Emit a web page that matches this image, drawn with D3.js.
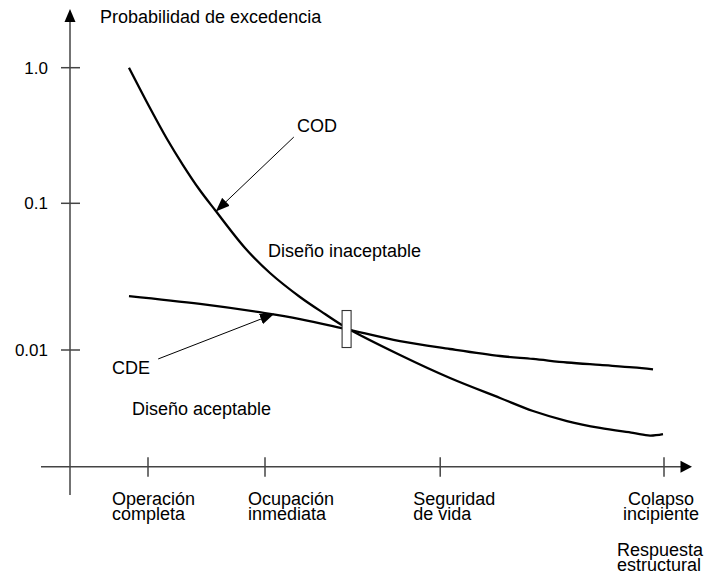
<!DOCTYPE html>
<html><head><meta charset="utf-8">
<script src="https://cdn.jsdelivr.net/npm/d3@7"></script>
<style>
body{margin:0;background:#fff}
svg{display:block}
text{font-family:"Liberation Sans",Arial,Helvetica,sans-serif;fill:#000}
</style>
</head><body>
<svg id="c" width="707" height="574"></svg>
<script>
// ---- data ----
const responseLevels = [["Operación","completa"],["Ocupación","inmediata"],["Seguridad","de vida"],["Colapso","incipiente"]];
const responseTicks = [1.3, 3.25, 6.17, 9.9];
const probTicks = [0.01, 0.1, 1];
const probTickLabels = ["0.01", "0.1", "1.0"];

// COD curve
const codX = [0.983, 1.333, 1.617, 1.883, 2.15, 2.417, 2.917, 3.333, 3.833, 4.25, 4.6, 5.5, 6.333, 7.167, 7.717, 8.283, 8.833, 9.383, 9.667, 9.883];
const codY = [1.0, 0.5045, 0.298, 0.1916, 0.1275, 0.0900, 0.0496, 0.03348, 0.02298, 0.01759, 0.01423, 0.00924, 0.00644, 0.00471, 0.00384, 0.00328, 0.00294, 0.00272, 0.00261, 0.00267];
// CDE curve
const cdeX = [0.983, 2.167, 3.25, 3.833, 4.6, 5.5, 6.333, 7.167, 7.717, 8.283, 8.833, 9.383, 9.717];
const cdeY = [0.0233, 0.0206, 0.01786, 0.01626, 0.0139, 0.0115, 0.01016, 0.0091, 0.00869, 0.00822, 0.00791, 0.00762, 0.00739];

// ---- layout ----
const svg = d3.select("#c");
const x = d3.scaleLinear().domain([0, 10]).range([70, 670]);
const y = d3.scaleLog().domain([0.01, 0.1, 1]).range([350, 203.3, 67.7]);
const axisColor = "#444";
const xAxisY = 466.7;

// y axis
svg.append("line").attr("x1", x(0)).attr("x2", x(0)).attr("y1", 21).attr("y2", 495)
  .attr("stroke", axisColor).attr("stroke-width", 1.5);
svg.append("path").attr("d", `M${x(0)},9 L${x(0)+5.5},22 L${x(0)-5.5},22 Z`).attr("fill", "#000");

// x axis
svg.append("line").attr("x1", 41).attr("x2", 682).attr("y1", xAxisY).attr("y2", xAxisY)
  .attr("stroke", axisColor).attr("stroke-width", 1.5);
svg.append("path").attr("d", `M692,${xAxisY} L680.5,${xAxisY-6} L680.5,${xAxisY+6} Z`).attr("fill", "#000");

// y ticks
const yt = svg.append("g");
yt.selectAll("line").data(probTicks).join("line")
  .attr("x1", x(0) - 9).attr("x2", x(0) + 10)
  .attr("y1", d => y(d)).attr("y2", d => y(d))
  .attr("stroke", axisColor).attr("stroke-width", 1.5);
yt.selectAll("text").data(probTicks).join("text")
  .attr("x", 48).attr("y", d => y(d) + 6)
  .attr("text-anchor", "end").attr("font-size", 17)
  .text((d, i) => probTickLabels[i]);

// x ticks
const xt = svg.append("g");
xt.selectAll("line").data(responseTicks).join("line")
  .attr("x1", d => x(d)).attr("x2", d => x(d))
  .attr("y1", xAxisY - 9.5).attr("y2", xAxisY + 10)
  .attr("stroke", axisColor).attr("stroke-width", 1.5);
const labelLayout = [
  {anchor: "start", dx: -36},
  {anchor: "start", dx: -17},
  {anchor: "start", dx: -27},
  {anchor: "middle", dx: -3}
];
responseTicks.forEach((t, i) => {
  const tx = svg.append("text").attr("font-size", 18)
    .attr("text-anchor", labelLayout[i].anchor);
  responseLevels[i].forEach((s, j) => {
    tx.append("tspan").attr("x", x(t) + labelLayout[i].dx).attr("y", 505 + j * 14.5).text(s);
  });
});

// axis titles
svg.append("text").attr("x", 100).attr("y", 23).attr("font-size", 18).text("Probabilidad de excedencia");
const rt = svg.append("text").attr("font-size", 18);
rt.append("tspan").attr("x", 617).attr("y", 556).text("Respuesta");
rt.append("tspan").attr("x", 617).attr("y", 571).text("estructural");

// curves
const line = d3.line().x(d => x(d[0])).y(d => y(d[1])).curve(d3.curveCatmullRom.alpha(0.5));
svg.append("path").attr("d", line(d3.zip(cdeX, cdeY)))
  .attr("fill", "none").attr("stroke", "#000").attr("stroke-width", 2.3);
svg.append("path").attr("d", line(d3.zip(codX, codY)))
  .attr("fill", "none").attr("stroke", "#000").attr("stroke-width", 2.3);

// crossing marker box
const boxX = 4.61, boxY = 0.0139;
svg.append("rect").attr("x", x(boxX) - 4.5).attr("y", y(boxY) - 18.5)
  .attr("width", 9).attr("height", 37)
  .attr("fill", "#fff").attr("stroke", "#333").attr("stroke-width", 1.1);

// annotations with arrows
svg.append("defs").append("marker").attr("id", "ah")
  .attr("viewBox", "0 -6 14 12").attr("refX", 14).attr("refY", 0)
  .attr("markerUnits", "userSpaceOnUse").attr("markerWidth", 14).attr("markerHeight", 12)
  .attr("orient", "auto")
  .append("path").attr("d", "M0,-5.5 L14,0 L0,5.5 Z").attr("fill", "#000");

const annotations = [
  {text: "COD", lx: 297, ly: 132, tail: [3.73, 0.308], tip: [2.43, 0.088]},
  {text: "CDE", lx: 112, ly: 374, tail: [1.47, 0.00869], tip: [3.4, 0.0176]}
];
annotations.forEach(a => {
  svg.append("line")
    .attr("x1", x(a.tail[0])).attr("y1", y(a.tail[1]))
    .attr("x2", x(a.tip[0])).attr("y2", y(a.tip[1]))
    .attr("stroke", "#000").attr("stroke-width", 1)
    .attr("marker-end", "url(#ah)");
  svg.append("text").attr("x", a.lx).attr("y", a.ly).attr("font-size", 18).text(a.text);
});

svg.append("text").attr("x", 268).attr("y", 257).attr("font-size", 18).text("Diseño inaceptable");
svg.append("text").attr("x", 132).attr("y", 415).attr("font-size", 18).text("Diseño aceptable");
</script>
</body></html>
